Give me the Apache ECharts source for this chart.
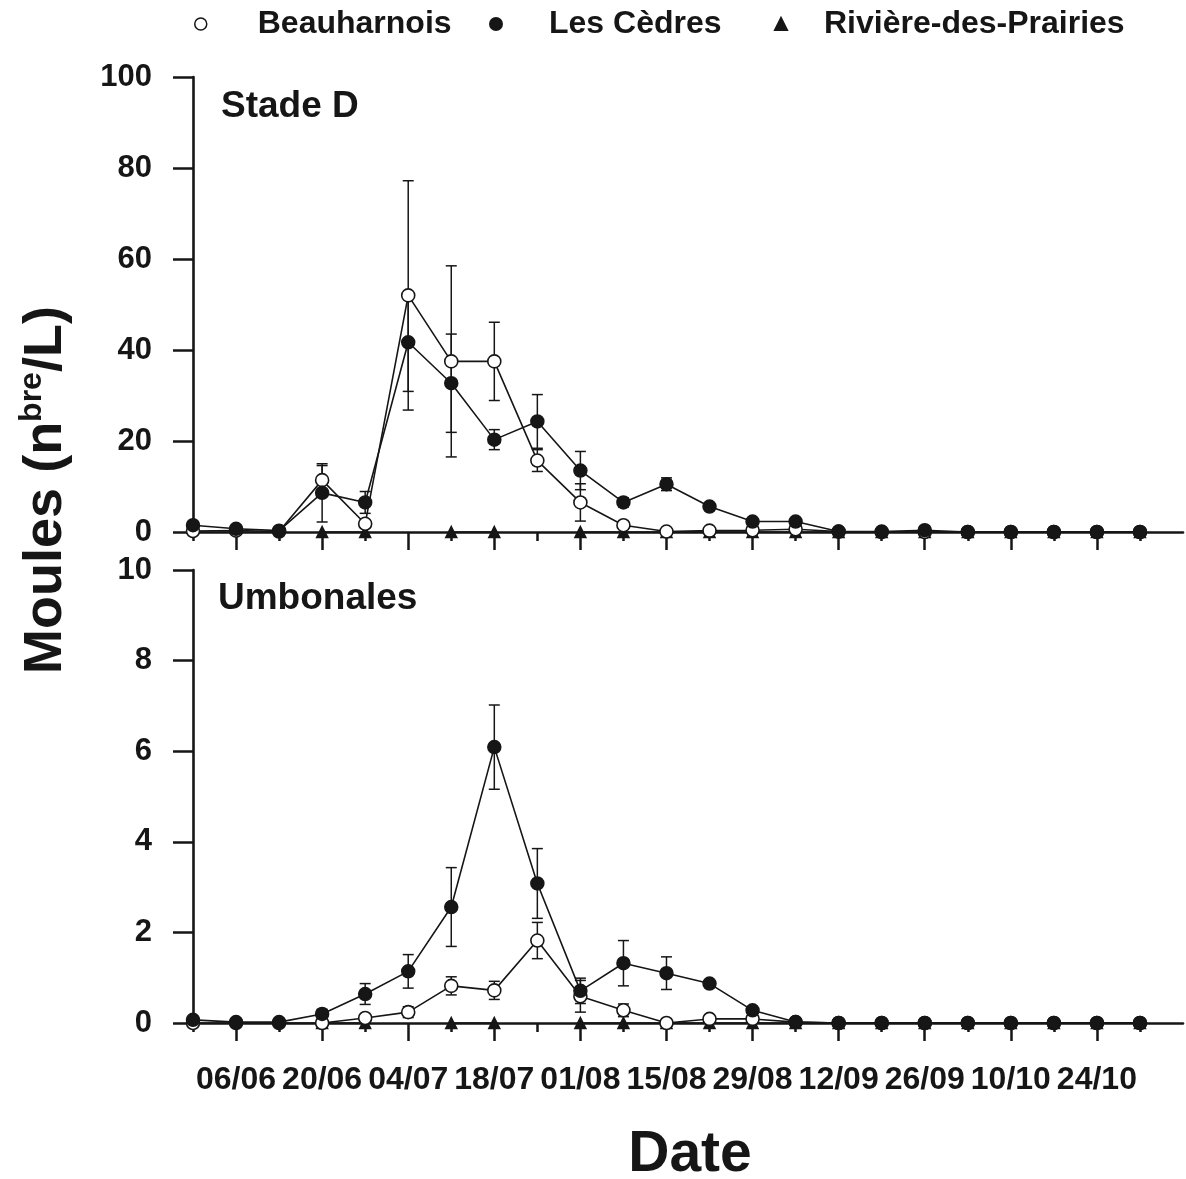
<!DOCTYPE html>
<html>
<head>
<meta charset="utf-8">
<title>Moules - Stade D / Umbonales</title>
<script src="https://cdn.jsdelivr.net/npm/echarts@6/dist/echarts.min.js"></script>
<style>
    html, body {margin: 0; padding: 0; background: #fff;}
    #chart {width: 1186px; height: 1179px;}
</style>
</head>
<body>
<div id="chart"></div>
<script>
// dates d'echantillonnage (hebdomadaires)
let dates = ['30/05', '06/06', '13/06', '20/06', '27/06', '04/07', '11/07', '18/07', '25/07', '01/08',
    '08/08', '15/08', '22/08', '29/08', '05/09', '12/09', '19/09', '26/09', '03/10', '10/10',
    '17/10', '24/10', '31/10'];

// Stade D (nbre/L)
let beauD = [0.2, 0.3, 0.1, 11.4, 1.8, 52.0, 37.5, 37.5, 15.7, 6.5, 1.5, 0.1, 0.3, 0.4, 0.6, 0.1, 0, 0, 0, 0, 0, 0, 0];
let beauDErr = [0, 0, 0, 3.2, 0.8, 25.2, 21.0, 8.6, 2.4, 4.1, 0.5, 0, 0, 0, 0, 0, 0, 0, 0, 0, 0, 0, 0];
let cedD = [1.5, 0.7, 0.3, 8.6, 6.5, 41.7, 32.7, 20.3, 24.3, 13.5, 6.5, 10.5, 5.6, 2.3, 2.3, 0.1, 0.1, 0.4, 0, 0, 0, 0, 0];
let cedDErr = [0, 0, 0, 6.4, 2.4, 10.8, 10.8, 2.2, 5.9, 4.2, 1.0, 1.4, 0.5, 0.3, 0.3, 0, 0, 0, 0, 0, 0, 0, 0];
let rdpD = [null, null, null, 0, 0, null, 0, 0, null, 0, 0, 0, 0, 0, 0, 0, 0, 0, 0, 0, 0, 0, 0];

// Umbonales (nbre/L)
let beauU = [0, 0, 0, 0, 0.11, 0.24, 0.82, 0.72, 1.82, 0.59, 0.28, 0, 0.09, 0.09, 0.02, 0, 0, 0, 0, 0, 0, 0, 0];
let beauUErr = [0, 0, 0, 0, 0.05, 0.12, 0.2, 0.2, 0.4, 0.35, 0.14, 0, 0, 0, 0, 0, 0, 0, 0, 0, 0, 0, 0];
let cedU = [0.07, 0.02, 0.02, 0.2, 0.64, 1.14, 2.56, 6.09, 3.08, 0.71, 1.32, 1.10, 0.87, 0.28, 0.02, 0, 0, 0, 0, 0, 0, 0, 0];
let cedUErr = [0, 0, 0, 0.1, 0.23, 0.37, 0.87, 0.93, 0.77, 0.28, 0.5, 0.36, 0.05, 0.03, 0, 0, 0, 0, 0, 0, 0, 0, 0];
let rdpU = [null, null, null, 0, 0, null, 0, 0, null, 0, 0, 0, 0, 0, 0, 0, 0, 0, 0, 0, 0, 0, 0];

let FONT = '"Liberation Sans", Arial, Helvetica, sans-serif';
let INK = '#161616';

// l'axe depasse la derniere date d'environ une semaine
let axisDates = dates.concat(['']);
// grands traits (avec etiquette) une semaine sur deux, petits traits entre
let longIdx = dates.map((d, i) => i).filter((i) => i % 2 === 1);
let shortIdx = dates.map((d, i) => i).filter((i) => i % 2 === 0);

function errorBars(params, api) {
    let x = api.value(0), y = api.value(1), e = api.value(2);
    if (!e) {
        return null;
    }
    let lo = api.coord([x, Math.max(y - e, 0)]);
    let hi = api.coord([x, y + e]);
    let w = 5.5;
    let st = {stroke: INK, lineWidth: 1.5};
    return {
        type: 'group',
        children: [
            {type: 'line', shape: {x1: lo[0], y1: lo[1], x2: hi[0], y2: hi[1]}, style: st},
            {type: 'line', shape: {x1: hi[0] - w, y1: hi[1], x2: hi[0] + w, y2: hi[1]}, style: st},
            {type: 'line', shape: {x1: lo[0] - w, y1: lo[1], x2: lo[0] + w, y2: lo[1]}, style: st}
        ]
    };
}

function errSeries(name, values, errs, axis) {
    return {
        name: name + ' err',
        type: 'custom',
        xAxisIndex: axis * 2,
        yAxisIndex: axis,
        renderItem: errorBars,
        data: values.map((v, i) => [i, v, errs[i]]),
        z: 2
    };
}

function lineSeries(name, values, axis, kind) {
    let s = {
        name: name,
        type: 'line',
        xAxisIndex: axis * 2,
        yAxisIndex: axis,
        data: values,
        symbol: 'circle',
        symbolSize: 13,
        showAllSymbol: true,
        connectNulls: false,
        lineStyle: {color: INK, width: 1.6},
        itemStyle: {color: INK, borderColor: INK, borderWidth: 1.5},
        emphasis: {disabled: true},
        z: 3
    };
    if (kind === 'open') {
        s.itemStyle = {color: '#fff', borderColor: INK, borderWidth: 1.6};
    } else if (kind === 'tri') {
        s.symbol = 'triangle';
        s.symbolSize = 11;
        s.z = 2;
    } else {
        s.z = 4;
    }
    return s;
}

function xAxes(gridIndex, withLabels) {
    let shortTicks = {
        gridIndex: gridIndex,
        type: 'category',
        data: axisDates,
        boundaryGap: false,
        position: 'bottom',
        axisLine: {onZero: true, lineStyle: {color: INK, width: 2.6}},
        axisTick: {customValues: shortIdx, length: 9, lineStyle: {color: INK, width: 2.5}},
        axisLabel: {show: false},
        splitLine: {show: false}
    };
    let longTicks = {
        gridIndex: gridIndex,
        type: 'category',
        data: axisDates,
        boundaryGap: false,
        position: 'bottom',
        axisLine: {show: false, onZero: true},
        axisTick: {customValues: longIdx, length: 18, lineStyle: {color: INK, width: 2.5}},
        axisLabel: {
            show: withLabels,
            customValues: longIdx,
            margin: 41,
            color: INK,
            fontFamily: FONT,
            fontWeight: 'bold',
            fontSize: 32
        },
        splitLine: {show: false}
    };
    return [shortTicks, longTicks];
}

function yAxis(gridIndex, max, interval) {
    return {
        gridIndex: gridIndex,
        type: 'value',
        min: 0,
        max: max,
        interval: interval,
        axisLine: {show: true, lineStyle: {color: INK, width: 2.6}},
        axisTick: {show: true, length: 20, lineStyle: {color: INK, width: 2.5}},
        axisLabel: {margin: 41, color: INK, fontFamily: FONT, fontWeight: 'bold', fontSize: 31},
        splitLine: {show: false}
    };
}

function legendItem(left, pad, item) {
    return {
        top: 3,
        left: left,
        itemWidth: 12,
        itemHeight: 12,
        selectedMode: false,
        textStyle: {color: INK, fontFamily: FONT, fontWeight: 'bold', fontSize: 32, padding: [0, 0, 0, pad]},
        data: [item]
    };
}

let chart = echarts.init(document.getElementById('chart'), null, {renderer: 'canvas'});

let option = {
    animation: false,
    backgroundColor: '#fff',
    legend: [
        legendItem(189, 46, {name: 'Beauharnois', icon: 'circle', itemStyle: {color: '#fff', borderColor: INK, borderWidth: 1.5}}),
        legendItem(484, 42, {name: 'Les Cèdres', icon: 'circle', itemStyle: {color: INK}}),
        legendItem(769, 32, {name: 'Rivière-des-Prairies', icon: 'triangle', itemStyle: {color: INK}})
    ],
    grid: [
        {left: 193, top: 77, width: 990, height: 455},
        {left: 193, top: 570, width: 990, height: 453}
    ],
    xAxis: xAxes(0, false).concat(xAxes(1, true)),
    yAxis: [yAxis(0, 100, 20), yAxis(1, 10, 2)],
    graphic: [
        {type: 'text', left: 221, top: 88, style: {text: 'Stade D', fill: INK, font: 'bold 37px ' + FONT}},
        {type: 'text', left: 218, top: 580, style: {text: 'Umbonales', fill: INK, font: 'bold 37px ' + FONT}},
        {
            type: 'text', x: 46, y: 490, rotation: Math.PI / 2,
            style: {
                text: '{a|Moules (n}{s|bre}{a|/L)}',
                align: 'center',
                verticalAlign: 'middle',
                fill: INK,
                rich: {
                    a: {fontFamily: FONT, fontWeight: 'bold', fontSize: 54, lineHeight: 60, fill: INK},
                    s: {fontFamily: FONT, fontWeight: 'bold', fontSize: 32, lineHeight: 32, verticalAlign: 'top', fill: INK}
                }
            }
        },
        {
            type: 'text', x: 690, y: 1155,
            style: {text: 'Date', align: 'center', verticalAlign: 'middle', fill: INK, font: 'bold 57px ' + FONT}
        }
    ],
    series: [
        errSeries('Beauharnois', beauD, beauDErr, 0),
        errSeries('Les Cèdres', cedD, cedDErr, 0),
        lineSeries('Rivière-des-Prairies', rdpD, 0, 'tri'),
        lineSeries('Beauharnois', beauD, 0, 'open'),
        lineSeries('Les Cèdres', cedD, 0, 'filled'),
        errSeries('Beauharnois', beauU, beauUErr, 1),
        errSeries('Les Cèdres', cedU, cedUErr, 1),
        lineSeries('Rivière-des-Prairies', rdpU, 1, 'tri'),
        lineSeries('Beauharnois', beauU, 1, 'open'),
        lineSeries('Les Cèdres', cedU, 1, 'filled')
    ]
};

chart.setOption(option);
</script>
</body>
</html>
